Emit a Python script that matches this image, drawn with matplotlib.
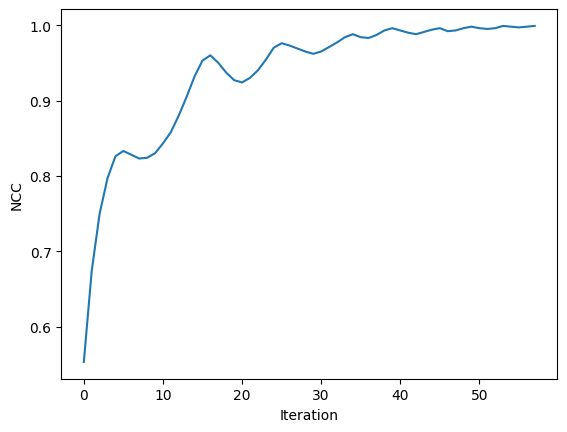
import matplotlib
matplotlib.use("Agg")
import matplotlib.pyplot as plt

# NCC per iteration
ncc = [0.553, 0.674, 0.750, 0.797, 0.826, 0.833, 0.828, 0.823, 0.824, 0.830,
       0.843, 0.858, 0.880, 0.905, 0.932, 0.953, 0.960, 0.950, 0.937, 0.927,
       0.924, 0.930, 0.940, 0.954, 0.970, 0.976, 0.973, 0.969, 0.965, 0.962,
       0.965, 0.971, 0.977, 0.984, 0.988, 0.984, 0.983, 0.987, 0.993, 0.996,
       0.993, 0.990, 0.988, 0.991, 0.994, 0.996, 0.992, 0.993, 0.996, 0.998,
       0.996, 0.995, 0.996, 0.999, 0.998, 0.997, 0.998, 0.999]
iterations = list(range(len(ncc)))

plt.figure(figsize=(6.4, 4.8), dpi=100)
plt.plot(iterations, ncc)
plt.xlabel("Iteration")
plt.ylabel("NCC")
plt.savefig("out.png", bbox_inches="tight")
